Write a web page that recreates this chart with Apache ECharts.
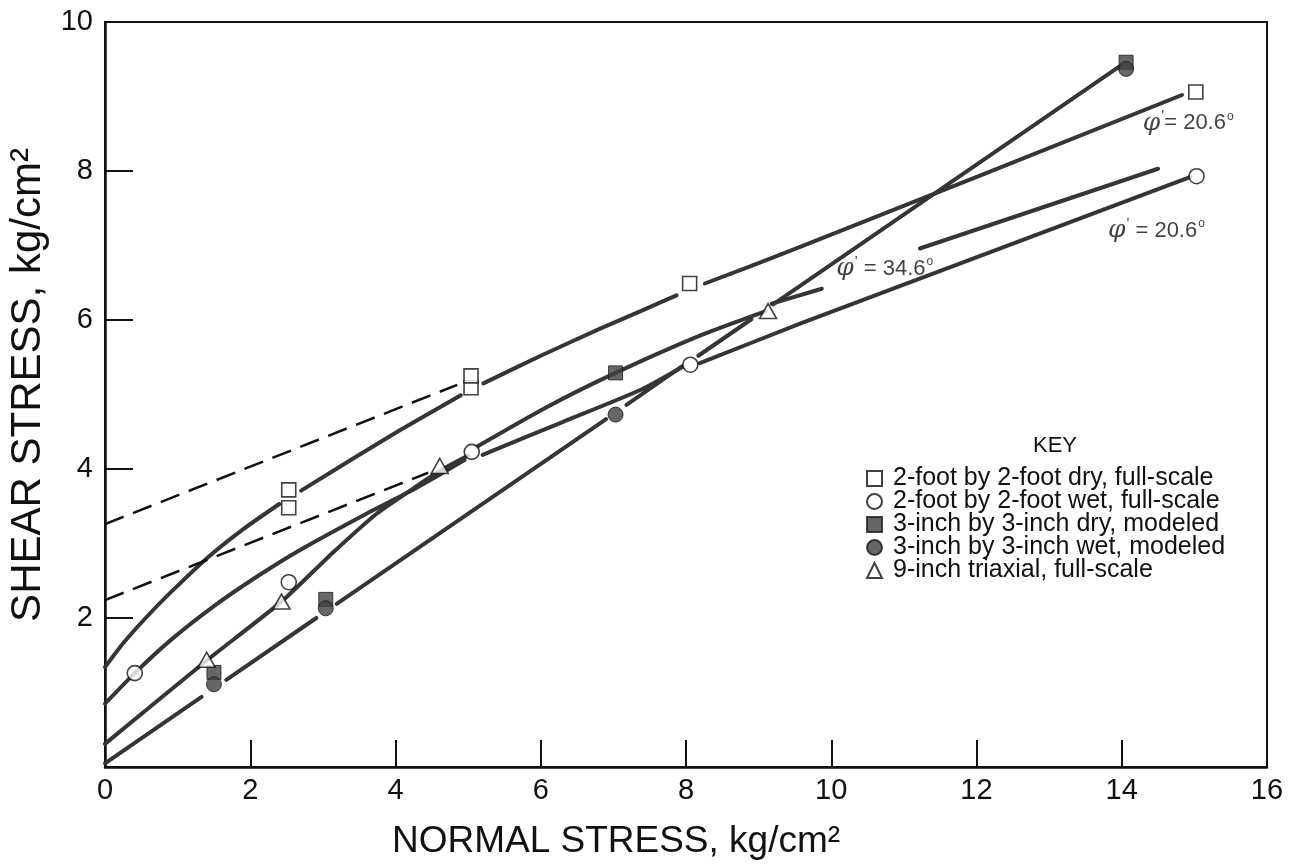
<!DOCTYPE html>
<html>
<head>
<meta charset="utf-8">
<script src="https://cdn.jsdelivr.net/npm/echarts@6/dist/echarts.min.js"></script>
<style>
  html, body { margin: 0; padding: 0; background: #fff; }
  #chart { width: 1298px; height: 867px; }
</style>
</head>
<body>
<div id="chart"></div>
<script>
// Test results: [normal stress, shear stress] in kg/cm2
const dryFullScale = [[2.53, 3.48], [2.53, 3.72], [5.04, 5.09], [5.04, 5.25], [8.05, 6.49], [15.02, 9.06]];
const wetFullScale = [[0.41, 1.26], [2.53, 2.48], [5.05, 4.23], [8.06, 5.40], [15.03, 7.93]];
const dryModeled = [[1.50, 1.27], [3.04, 2.25], [7.03, 5.29], [14.06, 9.46]];
const wetModeled = [[1.50, 1.11], [3.04, 2.13], [7.03, 4.73], [14.06, 9.37]];
const triaxial = [[1.40, 1.44], [2.43, 2.22], [4.61, 4.04], [9.13, 6.12]];

// Strength envelopes, each a list of segments (broken at the markers)
const dryFullCurve = [
  [[0, 1.34], [0.25, 1.66], [0.55, 1.99], [0.9, 2.34], [1.4, 2.80], [1.9, 3.19], [2.4, 3.53]],
  [[2.7, 3.71], [3.4, 4.13], [4.06, 4.52], [4.9, 4.99]],
  [[5.21, 5.15], [6.0, 5.52], [6.81, 5.88], [7.4, 6.13], [7.87, 6.33]],
  [[8.26, 6.49], [9.52, 6.96], [14.83, 9.02]]
];
const wetFullCurve = [
  [[0, 0.85], [0.41, 1.26], [0.9, 1.70], [1.5, 2.16], [2.1, 2.56], [2.68, 2.91], [3.6, 3.40], [4.2, 3.70], [4.6, 3.92], [4.95, 4.12]],
  [[5.2, 4.19], [6.3, 4.63], [7.37, 5.06], [7.95, 5.37]],
  [[8.19, 5.42], [9.57, 5.95], [12.3, 6.95], [14.95, 7.92]]
];
const triaxialCurve = [
  [[0, 0.31], [1.4, 1.43], [2.43, 2.22], [3.14, 2.88], [3.74, 3.40], [4.2, 3.71], [4.6, 3.97], [5.0, 4.18]],
  [[5.12, 4.30], [6.08, 4.83], [7.03, 5.29], [8.19, 5.79], [9.1, 6.12]],
  [[9.18, 6.22], [9.87, 6.42]],
  [[11.22, 6.96], [14.5, 8.03]]
];
const modeledLine = [
  [[0, 0.05], [1.33, 0.94]],
  [[1.67, 1.17], [2.91, 2.0]],
  [[3.19, 2.19], [6.9, 4.67]],
  [[7.18, 4.86], [7.95, 5.38]],
  [[8.17, 5.52], [8.9, 6.01]],
  [[9.2, 6.21], [13.98, 9.41]]
];
// Straight-line extensions back to zero normal stress
const dryFullExtension = [[0, 3.26], [4.85, 5.13]];
const wetFullExtension = [[0, 2.24], [4.45, 3.95]];

// Friction angle annotations: [x, y, separator, angle]
const phiLabels = [
  [10.07, 6.69, ' = ', '34.6'],
  [14.29, 8.64, '= ', '20.6'],
  [13.81, 7.20, ' = ', '20.6']
];

const seriesNames = [
  '2-foot by 2-foot dry, full-scale',
  '2-foot by 2-foot wet, full-scale',
  '3-inch by 3-inch dry, modeled',
  '3-inch by 3-inch wet, modeled',
  '9-inch triaxial, full-scale'
];

const FONT = '"Liberation Sans", Arial, Helvetica, sans-serif';
const INK = '#111';
const LINE = '#353535';
const FILL = '#404040';

function segmentSeries(segments, lineStyle) {
  return segments.map(seg => ({
    type: 'line',
    data: seg,
    showSymbol: false,
    symbol: 'none',
    smooth: seg.length > 2 ? 0.2 : false,
    lineStyle: lineStyle,
    silent: true,
    z: 2
  }));
}

const solid = { color: LINE, width: 4, cap: 'round' };
const dashed = { color: INK, width: 2.5, type: [20, 10] };

const series = [].concat(
  segmentSeries(dryFullCurve, solid),
  segmentSeries(wetFullCurve, solid),
  segmentSeries(triaxialCurve, solid),
  segmentSeries(modeledLine, solid),
  segmentSeries([dryFullExtension, wetFullExtension], dashed),
  [
    { name: seriesNames[0], type: 'scatter', data: dryFullScale, symbol: 'rect', symbolSize: 14,
      itemStyle: { color: '#fff', borderColor: INK, borderWidth: 1.6 }, z: 5 },
    { name: seriesNames[1], type: 'scatter', data: wetFullScale, symbol: 'circle', symbolSize: 15,
      itemStyle: { color: '#fff', borderColor: INK, borderWidth: 1.6 }, z: 5 },
    { name: seriesNames[2], type: 'scatter', data: dryModeled, symbol: 'rect', symbolSize: 14,
      itemStyle: { color: FILL, borderColor: '#1a1a1a', borderWidth: 1 }, z: 5 },
    { name: seriesNames[3], type: 'scatter', data: wetModeled, symbol: 'circle', symbolSize: 15,
      itemStyle: { color: FILL, borderColor: '#1a1a1a', borderWidth: 1 }, z: 5 },
    { name: seriesNames[4], type: 'scatter', data: triaxial, symbol: 'triangle', symbolSize: [17, 15],
      itemStyle: { color: '#fff', borderColor: INK, borderWidth: 1.6 }, z: 6 },
    {
      type: 'scatter', silent: true, symbolSize: 0, z: 7,
      data: phiLabels.map(d => ({ value: [d[0], d[1]], sep: d[2], angle: d[3] })),
      label: {
        show: true, position: 'right', distance: 0, color: INK,
        formatter: p => '{phi|φ}{pr|\'}{t|' + p.data.sep + p.data.angle + '}{deg|o}',
        rich: {
          phi: { fontFamily: '"DejaVu Serif", serif', fontStyle: 'italic', fontSize: 25, color: INK },
          pr: { fontFamily: FONT, fontSize: 15, padding: [0, 0, 14, 1], color: INK },
          t: { fontFamily: FONT, fontSize: 22, color: INK },
          deg: { fontFamily: FONT, fontSize: 12, padding: [0, 0, 14, 1], color: INK }
        }
      }
    }
  ]
);

const chart = echarts.init(document.getElementById('chart'), null, { renderer: 'canvas' });
chart.setOption({
  backgroundColor: '#fff',
  animation: false,
  grid: { left: 105, right: 31, top: 22, bottom: 100, show: true, borderColor: INK, borderWidth: 2, backgroundColor: 'transparent' },
  xAxis: {
    type: 'value', min: 0, max: 16, interval: 2,
    axisLine: { show: true, onZero: false, lineStyle: { color: INK, width: 2.5 } },
    axisTick: { show: true, inside: true, length: 27, lineStyle: { color: INK, width: 2 } },
    axisLabel: { fontSize: 29, color: INK, fontFamily: FONT, margin: 9 },
    splitLine: { show: false }
  },
  yAxis: {
    type: 'value', min: 0, max: 10, interval: 2,
    axisLine: { show: true, onZero: false, lineStyle: { color: INK, width: 2.5 } },
    axisTick: { show: true, inside: true, length: 28, lineStyle: { color: INK, width: 2 } },
    axisLabel: { fontSize: 29, color: INK, fontFamily: FONT, margin: 12, formatter: v => (v === 0 ? '' : String(v)) },
    splitLine: { show: false }
  },
  legend: {
    data: seriesNames,
    orient: 'vertical',
    left: 861, top: 461,
    itemWidth: 15, itemHeight: 15, itemGap: -2,
    textStyle: { fontFamily: FONT, fontSize: 25, color: INK, lineHeight: 22, padding: [0, 0, 0, 6] },
    selectedMode: false
  },
  graphic: [
    { type: 'text', x: 1055, y: 446, style: { text: 'KEY', font: '22px ' + FONT, fill: INK, textAlign: 'center', textVerticalAlign: 'middle' } },
    { type: 'text', x: 616, y: 842, style: { text: 'NORMAL STRESS, kg/cm²', font: '37px ' + FONT, fill: INK, textAlign: 'center', textVerticalAlign: 'middle' } },
    { type: 'text', x: 28, y: 385, rotation: Math.PI / 2, style: { text: 'SHEAR STRESS, kg/cm²', font: '42px ' + FONT, fill: INK, textAlign: 'center', textVerticalAlign: 'middle' } }
  ],
  series: series
});
</script>
</body>
</html>
